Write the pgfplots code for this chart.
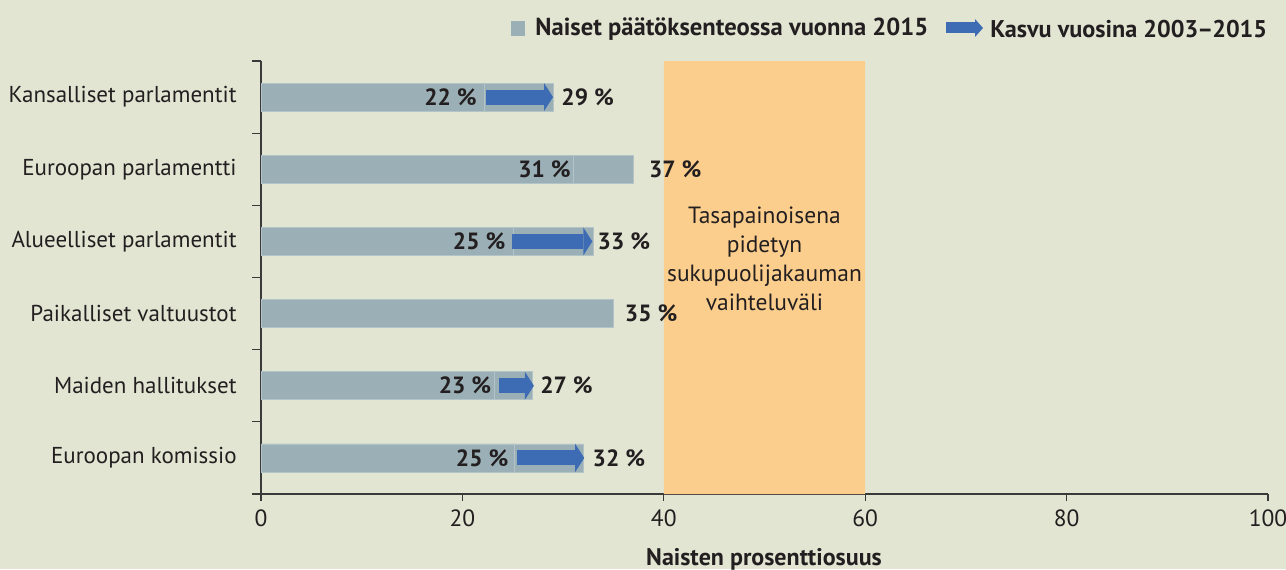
\documentclass[border=0pt]{standalone}
\usepackage{fontspec}
\setmainfont{PT Sans}
\usepackage{pgfplots}
\pgfplotsset{compat=1.18}
\usetikzlibrary{arrows.meta}
\definecolor{bgc}{HTML}{E1E5D2}
\definecolor{barc}{HTML}{9BB0B6}
\definecolor{baredge}{HTML}{B3C4C8}
\definecolor{arrc}{HTML}{3D6CB5}
\definecolor{bandc}{HTML}{FCCE8D}
\definecolor{txt}{HTML}{231F20}
\definecolor{axc}{HTML}{3A3A3A}
\begin{document}
\begin{tikzpicture}[x=1pt,y=1pt]
\fill[bgc] (0,0) rectangle (643,284.5);
\useasboundingbox (0,0) rectangle (643,284.5);
\begin{axis}[
  at={(130.5pt,37.5pt)}, anchor=south west,
  scale only axis, width=503.5pt, height=216.5pt,
  xmin=0, xmax=100, ymin=-0.5, ymax=5.5,
  axis x line*=bottom, axis y line*=left,
  axis line style={-, color=axc, line width=0.6pt},
  tick align=outside,
  xtick={0,20,...,100},
  /pgf/number format/assume math mode=true,
  major tick length=3.5pt, minor tick length=4.5pt,
  ytick={0,...,5},
  yticklabels={Euroopan komissio, Maiden hallitukset, Paikalliset valtuustot, Alueelliset parlamentit, Euroopan parlamentti, Kansalliset parlamentit},
  minor ytick={-0.5,0.5,...,5.5},
  major y tick style={draw=none},
  tick style={color=axc, line width=0.6pt},
  ticklabel style={font=\fontsize{11.75}{14}\selectfont, text=txt},
  yticklabel style={inner sep=0pt, xshift=-8.5pt, font=\fontsize{11.5}{14}\selectfont},
  xticklabel style={yshift=-1pt},
  clip=false,
]
% balanced range band
\addplot[fill=bandc, draw=none] coordinates {(40,-0.5) (60,-0.5) (60,5.5) (40,5.5)} \closedcycle;
% bars 2015
\addplot[xbar, bar shift=0pt, bar width=14pt, fill=barc, draw=baredge, line width=0.4pt]
  coordinates {(32,0) (27,1) (35,2) (33,3) (37,4) (29,5)};
% 2003 segments
\addplot[xbar, bar shift=0pt, bar width=14pt, fill=barc, draw=baredge, line width=0.4pt]
  coordinates {(25.2,0) (23.2,1) (25.1,3) (31,4) (22.2,5)};
% growth arrows
\addplot[quiver={u=\thisrow{u}, v=0}, arrc, line width=7.5pt,
  -{Triangle[length=4.5pt, width=14pt, line width=0pt]}]
  table[x=x, y=y] {
x y u
25.4 0 6.7
23.6 1 3.5
24.9 3 8.0
22.3 5 6.7
};
% value labels
\begin{scope}[every node/.style={font=\fontsize{11.75}{14}\bfseries\selectfont, text=txt, inner sep=0pt}]
\node[anchor=west] at (axis cs:29.8,5) {29~\%};
\node[anchor=west] at (axis cs:38.5,4) {37~\%};
\node[anchor=west] at (axis cs:33.4,3) {33~\%};
\node[anchor=west] at (axis cs:36.1,2) {35~\%};
\node[anchor=west] at (axis cs:27.7,1) {27~\%};
\node[anchor=west] at (axis cs:32.9,0) {32~\%};
\node[anchor=east] at (axis cs:21.45,5) {22~\%};
\node[anchor=east] at (axis cs:30.8,4) {31~\%};
\node[anchor=east] at (axis cs:24.3,3) {25~\%};
\node[anchor=east] at (axis cs:22.9,1) {23~\%};
\node[anchor=east] at (axis cs:24.6,0) {25~\%};
\end{scope}
\node[align=center, font=\fontsize{11.75}{14.5}\selectfont, text=txt, inner sep=0pt]
  at (axis cs:50,2.763) {Tasapainoisena\\pidetyn\\sukupuolijakauman\\vaihteluväli};
\end{axis}
% x label
\node[font=\fontsize{12}{14}\bfseries\selectfont, text=txt, inner sep=0pt] at (382,5) {Naisten prosenttiosuus};
% legend
\fill[barc] (255.5,266.5) rectangle (262.5,274);
\node[anchor=west, font=\fontsize{12.3}{14}\bfseries\selectfont, text=txt, inner sep=0pt] at (267.5,269.8) {Naiset päätöksenteossa vuonna 2015};
\draw[arrc, line width=5.5pt, -{Triangle[length=4pt, width=9pt, line width=0pt]}] (473,270.5) -- (491.5,270.5);
\node[anchor=west, font=\fontsize{12.1}{14}\bfseries\selectfont, text=txt, inner sep=0pt] at (495,269.8) {Kasvu vuosina 2003\kern-0.5pt–\kern-0.5pt2015};
\end{tikzpicture}
\end{document}
